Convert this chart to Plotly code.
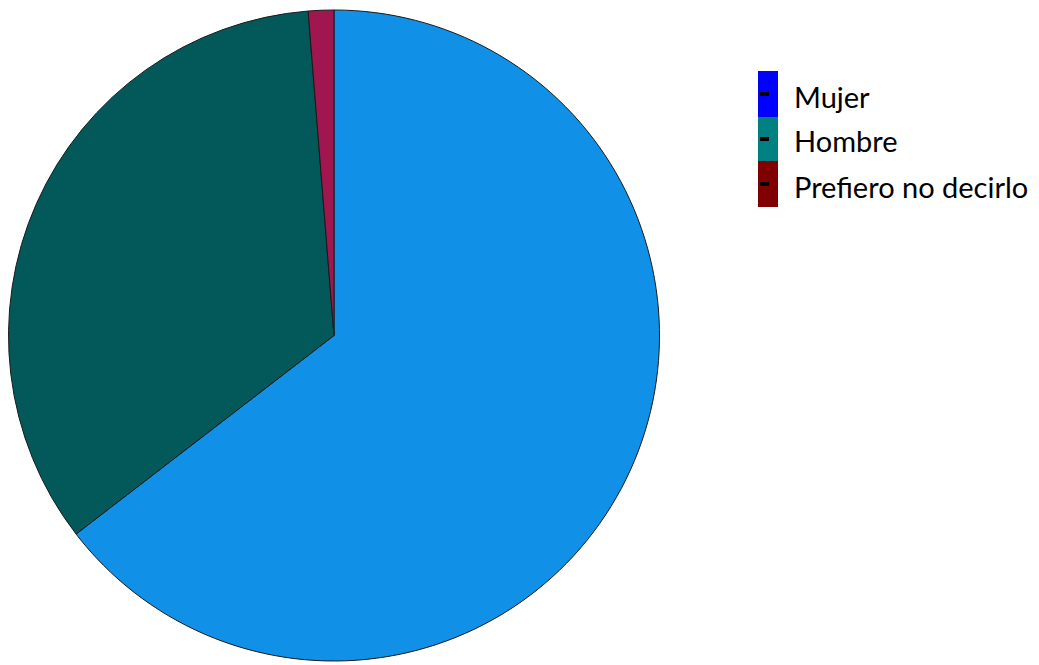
import plotly.graph_objects as go

categories = ["Mujer", "Hombre", "Prefiero no decirlo"]
counts = [51, 27, 1]
slice_colors = ["#1190E8", "#03595A", "#A0174F"]
legend_colors = ["#0000FF", "#008080", "#800000"]

W, H = 1039, 665
OFF = 8  # page body margin offset
cx, cy, r = 334 - OFF, 335.5 - OFF, 325.5


def px(x):
    return (x - OFF) / W


def py(y):
    return 1 - (y - OFF) / H


fig = go.Figure(go.Pie(
    labels=categories, values=counts, sort=False, direction="clockwise", rotation=0,
    marker=dict(colors=slice_colors, line=dict(color="#1a1a1a", width=1)),
    textinfo="none", hoverinfo="label+value+percent", showlegend=False,
    domain=dict(x=[(cx - r) / W, (cx + r) / W], y=[1 - (cy + r) / H, 1 - (cy - r) / H]),
))

shapes, annotations = [], []
tops = [71, 117, 161, 207]
for i, (name, col) in enumerate(zip(categories, legend_colors)):
    y0, y1 = tops[i], tops[i + 1]
    shapes.append(dict(type="rect", xref="paper", yref="paper",
                       x0=px(758), x1=px(778), y0=py(y1), y1=py(y0),
                       fillcolor=col, line=dict(width=0)))
    ym = (y0 + y1) / 2
    shapes.append(dict(type="rect", xref="paper", yref="paper",
                       x0=px(760), x1=px(769), y0=py(ym + 2), y1=py(ym - 2),
                       fillcolor="black", line=dict(width=0)))
    annotations.append(dict(text=name, xref="paper", yref="paper", x=px(792), y=py(ym + 2),
                            xanchor="left", yanchor="middle", showarrow=False,
                            font=dict(family="Lato, Open Sans, sans-serif", size=29, color="black")))

fig.update_layout(width=W, height=H, margin=dict(l=0, r=0, t=0, b=0),
                  paper_bgcolor="white", plot_bgcolor="white",
                  shapes=shapes, annotations=annotations)
fig.write_html("out.html")
